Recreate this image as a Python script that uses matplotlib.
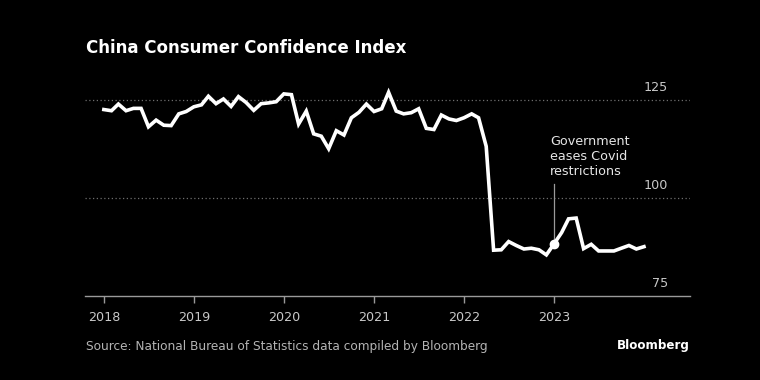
import pandas as pd
import matplotlib.pyplot as plt
import matplotlib.dates as mdates

# Monthly index values, Dec 2017 .. Dec 2023 (plotted at month end)
start_month = '2017-12-31'
values = [
    122.6,
    122.3, 124.0, 122.3, 122.9, 122.9, 118.2, 119.9, 118.6, 118.5, 121.5, 122.1, 123.3,
    123.8, 126.0, 124.1, 125.3, 123.4, 125.9, 124.4, 122.4, 124.1, 124.3, 124.6, 126.6,
    126.4, 118.9, 122.2, 116.4, 115.8, 112.6, 117.2, 116.1, 120.5, 121.9, 124.0, 122.1,
    122.8, 127.0, 122.2, 121.5, 121.8, 122.8, 117.8, 117.5, 121.2, 120.2, 119.8, 120.5,
    121.5, 120.5, 113.2, 86.7, 86.8, 88.9, 87.9, 87.0, 87.2, 86.8, 85.5, 88.3,
    91.2, 94.7, 94.9, 87.1, 88.2, 86.5, 86.5, 86.5, 87.2, 87.9, 87.0, 87.6,
]
year_ticks = ['2018', '2019', '2020', '2021', '2022', '2023']
y_ticks = [75, 100, 125]
note_index = 60  # Dec 2022
note_text = 'Government\neases Covid\nrestrictions'

BG = 'black'
GRID = '#6e6e6e'
LABEL = '#c8c8c8'


def main():
    dates = pd.date_range(start_month, periods=len(values), freq='ME')

    fig = plt.figure(figsize=(7.6, 3.8), dpi=100, facecolor=BG)
    ax = fig.add_axes([0.112, 0.221, 0.796, 0.567])
    ax.set_facecolor(BG)

    ax.set_ylim(75, 130)
    ax.set_xlim(pd.Timestamp('2017-10-16'), pd.Timestamp('2024-07-05'))

    # dotted gridlines and right side labels above them
    for v in y_ticks:
        if v > 75:
            ax.axhline(v, color=GRID, lw=0.9, ls=(0, (1, 2)), zorder=1)
        ax.text(0.964, v + 1.6, str(v), transform=ax.get_yaxis_transform(),
                ha='right', va='bottom', color=LABEL, fontsize=9.2)
    ax.set_yticks([])

    # main line
    ax.plot(dates, values, color='white', lw=2.6, solid_joinstyle='miter',
            clip_on=False, zorder=3)

    # annotation
    nd = dates[note_index]
    nv = values[note_index]
    ax.plot([nd, nd], [nv, 103.5], color='#9a9a9a', lw=0.9, zorder=2)
    ax.plot(nd, nv, 'o', color='white', ms=6, zorder=4)
    ax.text(nd - pd.Timedelta(days=15), 116.0, note_text, color='#e6e6e6',
            fontsize=9.2, ha='left', va='top', linespacing=1.2)

    # x axis
    for s in ['top', 'right', 'left']:
        ax.spines[s].set_visible(False)
    ax.spines['bottom'].set_color('#9a9a9a')
    ax.spines['bottom'].set_linewidth(1.0)
    ax.set_xticks([pd.Timestamp(y + '-01-01') for y in year_ticks])
    ax.set_xticklabels(year_ticks)
    ax.tick_params(axis='x', colors='#9a9a9a', length=5, width=1, pad=6,
                   labelcolor=LABEL, labelsize=9.2)

    # texts
    fig.text(0.113, 0.873, 'China Consumer Confidence Index', color='white',
             fontsize=12.0, fontweight='bold', ha='left', va='center')
    fig.text(0.113, 0.087, 'Source: National Bureau of Statistics data compiled by Bloomberg',
             color='#b4b4b4', fontsize=8.7, ha='left', va='center')
    fig.text(0.908, 0.092, 'Bloomberg', color='white', fontsize=8.6,
             fontweight='bold', ha='right', va='center')

    fig.savefig('out.png', dpi=100, facecolor=BG)


if __name__ == "__main__":
    main()
